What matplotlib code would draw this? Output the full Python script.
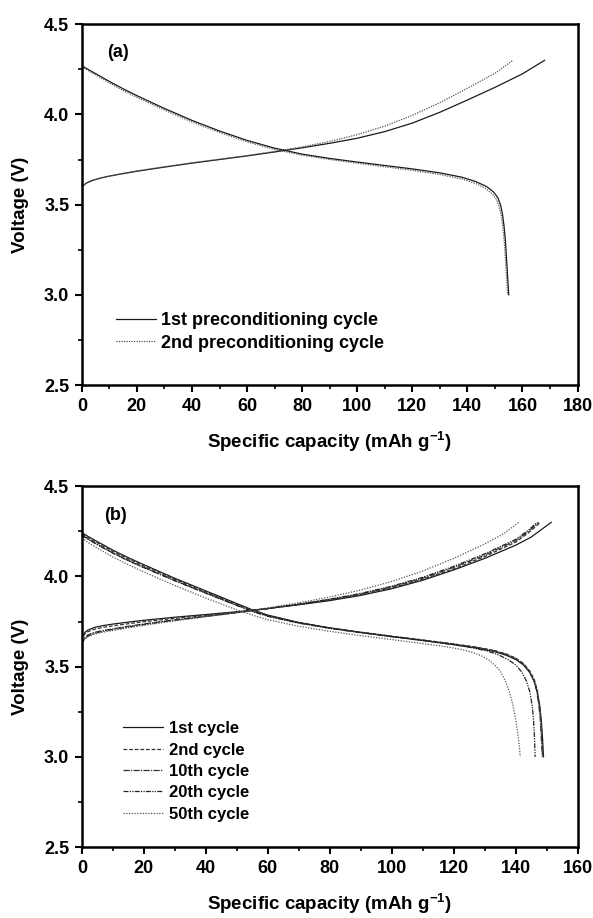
import matplotlib
matplotlib.use("Agg")
import matplotlib.pyplot as plt
from matplotlib.ticker import MultipleLocator, FormatStrFormatter

plt.rcParams['font.family'] = ['Liberation Sans', 'DejaVu Sans']
plt.rcParams['font.weight'] = 'bold'
plt.rcParams['mathtext.fontset'] = 'custom'
plt.rcParams['mathtext.rm'] = 'Liberation Sans:bold'
plt.rcParams['mathtext.bf'] = 'Liberation Sans:bold'
plt.rcParams['mathtext.default'] = 'bf'

# ---------------- Panel (a) data ----------------
a_labels = ['1st preconditioning cycle', '2nd preconditioning cycle']
a_ch1_x = [0, 1, 2, 4, 7, 10, 15, 20, 30, 40, 50, 60, 70, 80, 90, 100, 110, 120, 130, 140, 150, 160, 168]
a_ch1_y = [3.60, 3.612, 3.622, 3.635, 3.648, 3.658, 3.672, 3.685, 3.708, 3.73, 3.75, 3.77, 3.792, 3.815, 3.84, 3.868, 3.905, 3.952, 4.012, 4.08, 4.15, 4.225, 4.30]
a_ch2_x = [0, 1, 2, 4, 7, 10, 15, 20, 30, 40, 50, 60, 70, 80, 90, 100, 110, 120, 130, 140, 150, 156.5]
a_ch2_y = [3.60, 3.612, 3.622, 3.635, 3.648, 3.658, 3.673, 3.687, 3.71, 3.732, 3.752, 3.772, 3.795, 3.82, 3.85, 3.888, 3.935, 3.995, 4.065, 4.145, 4.228, 4.30]
a_dis1_x = [0, 2, 5, 10, 15, 20, 30, 40, 50, 60, 70, 80, 90, 100, 110, 120, 130, 138, 143, 147, 149.5, 151, 152, 152.7, 153.3, 153.8, 154.2, 154.6, 155]
a_dis1_y = [4.27, 4.252, 4.226, 4.183, 4.142, 4.104, 4.033, 3.967, 3.908, 3.856, 3.813, 3.78, 3.756, 3.736, 3.717, 3.698, 3.676, 3.652, 3.628, 3.60, 3.57, 3.54, 3.50, 3.45, 3.38, 3.30, 3.20, 3.10, 3.00]
a_dis2_x = [0, 2, 5, 10, 15, 20, 30, 40, 50, 60, 70, 80, 90, 100, 110, 120, 130, 138, 143, 146.5, 149, 150.5, 151.5, 152.3, 152.9, 153.4, 153.8, 154.2, 154.6]
a_dis2_y = [4.265, 4.246, 4.219, 4.175, 4.133, 4.095, 4.024, 3.958, 3.90, 3.848, 3.806, 3.774, 3.75, 3.73, 3.71, 3.69, 3.667, 3.642, 3.617, 3.59, 3.56, 3.53, 3.49, 3.44, 3.37, 3.29, 3.20, 3.10, 3.00]

# ---------------- Panel (b) data ----------------
b_labels = ['1st cycle', '2nd cycle', '10th cycle', '20th cycle', '50th cycle']
b_ch1_x = [0, 0.3, 1, 2, 4, 7, 10, 15, 20, 30, 40, 50, 60, 70, 80, 90, 100, 110, 120, 130, 140, 145, 151.5]
b_ch1_y = [3.64, 3.67, 3.69, 3.703, 3.717, 3.728, 3.736, 3.747, 3.757, 3.774, 3.789, 3.804, 3.822, 3.843, 3.866, 3.895, 3.932, 3.979, 4.036, 4.10, 4.173, 4.218, 4.30]
b_ch2_x = [0, 0.3, 1, 2, 4, 7, 10, 15, 20, 30, 40, 50, 60, 70, 80, 90, 100, 110, 120, 130, 140, 144, 148]
b_ch2_y = [3.64, 3.665, 3.682, 3.694, 3.707, 3.718, 3.726, 3.738, 3.749, 3.768, 3.785, 3.802, 3.822, 3.845, 3.87, 3.90, 3.937, 3.984, 4.042, 4.11, 4.19, 4.24, 4.30]
b_ch10_x = [0, 0.3, 1, 2, 4, 7, 10, 15, 20, 30, 40, 50, 60, 70, 80, 90, 100, 110, 120, 130, 140, 144, 147.5]
b_ch10_y = [3.62, 3.645, 3.663, 3.676, 3.69, 3.701, 3.71, 3.724, 3.737, 3.76, 3.78, 3.80, 3.822, 3.846, 3.872, 3.903, 3.942, 3.99, 4.05, 4.118, 4.198, 4.248, 4.30]
b_ch20_x = [0, 0.3, 1, 2, 4, 7, 10, 15, 20, 30, 40, 50, 60, 70, 80, 90, 100, 110, 120, 130, 140, 144, 147]
b_ch20_y = [3.61, 3.638, 3.656, 3.67, 3.685, 3.697, 3.706, 3.72, 3.733, 3.757, 3.778, 3.799, 3.822, 3.847, 3.874, 3.906, 3.946, 3.995, 4.056, 4.125, 4.205, 4.255, 4.30]
b_ch50_x = [0, 0.3, 1, 2, 4, 7, 10, 15, 20, 30, 40, 50, 60, 70, 80, 90, 100, 110, 120, 130, 136, 141]
b_ch50_y = [3.62, 3.64, 3.655, 3.666, 3.68, 3.692, 3.70, 3.715, 3.729, 3.754, 3.777, 3.80, 3.826, 3.854, 3.886, 3.925, 3.972, 4.03, 4.10, 4.18, 4.235, 4.30]

b_dis1_x = [0, 2, 5, 10, 15, 20, 30, 40, 50, 55, 60, 70, 80, 90, 100, 110, 120, 127, 133, 137, 140, 142.5, 144.5, 146, 147, 147.8, 148.3, 148.7, 149]
b_dis1_y = [4.243, 4.222, 4.193, 4.146, 4.104, 4.065, 3.99, 3.92, 3.85, 3.815, 3.786, 3.745, 3.715, 3.69, 3.667, 3.645, 3.622, 3.604, 3.584, 3.563, 3.54, 3.51, 3.47, 3.42, 3.36, 3.28, 3.20, 3.10, 3.00]
b_dis2_x = [0, 2, 5, 10, 15, 20, 30, 40, 50, 55, 60, 70, 80, 90, 100, 110, 120, 127, 133, 137, 140, 142.5, 144.5, 146, 147, 147.7, 148.2, 148.5, 148.8]
b_dis2_y = [4.236, 4.215, 4.186, 4.139, 4.097, 4.058, 3.984, 3.914, 3.845, 3.811, 3.783, 3.744, 3.715, 3.691, 3.669, 3.648, 3.626, 3.609, 3.59, 3.57, 3.548, 3.518, 3.478, 3.43, 3.37, 3.29, 3.20, 3.10, 3.00]
b_dis10_x = [0, 2, 5, 10, 15, 20, 30, 40, 50, 55, 60, 70, 80, 90, 100, 110, 120, 127, 133, 137, 140, 142.4, 144.3, 145.8, 146.8, 147.5, 148, 148.3, 148.6]
b_dis10_y = [4.23, 4.208, 4.178, 4.131, 4.089, 4.051, 3.978, 3.909, 3.841, 3.808, 3.781, 3.743, 3.714, 3.69, 3.668, 3.647, 3.625, 3.608, 3.589, 3.568, 3.545, 3.515, 3.475, 3.425, 3.365, 3.285, 3.20, 3.10, 3.00]
b_dis20_x = [0, 2, 5, 10, 15, 20, 30, 40, 50, 55, 60, 70, 80, 90, 100, 110, 120, 126, 131, 134.5, 137.5, 140, 142, 143.5, 144.6, 145.4, 145.8, 146.1, 146.3]
b_dis20_y = [4.228, 4.206, 4.176, 4.129, 4.087, 4.049, 3.976, 3.907, 3.839, 3.806, 3.779, 3.741, 3.712, 3.688, 3.666, 3.645, 3.622, 3.605, 3.586, 3.565, 3.54, 3.51, 3.47, 3.42, 3.36, 3.28, 3.20, 3.10, 3.00]
b_dis50_x = [0, 2, 5, 10, 15, 20, 30, 40, 50, 55, 60, 70, 80, 90, 100, 110, 117, 122, 126, 129, 131.5, 133.5, 135.2, 136.7, 138, 139.1, 140, 140.7, 141.2, 141.5]
b_dis50_y = [4.213, 4.188, 4.157, 4.108, 4.065, 4.025, 3.95, 3.88, 3.815, 3.786, 3.76, 3.724, 3.696, 3.672, 3.65, 3.628, 3.612, 3.597, 3.58, 3.56, 3.535, 3.505, 3.47, 3.42, 3.36, 3.29, 3.21, 3.13, 3.06, 3.00]

# ---------------- Figure ----------------
fig = plt.figure(figsize=(5.93, 9.18), dpi=100)
axA = fig.add_axes([0.138, 0.5806, 0.836, 0.393])
axB = fig.add_axes([0.138, 0.0773, 0.836, 0.393])

lw = 0.9
dark = '#1a1a1a'
grey = '#555555'

axA.plot(a_ch1_x, a_ch1_y, color=dark, lw=lw, ls='-', label=a_labels[0])
axA.plot(a_ch2_x, a_ch2_y, color=grey, lw=lw, ls=(0, (1, 1)), label=a_labels[1])
axA.plot(a_dis1_x, a_dis1_y, color=dark, lw=lw, ls='-')
axA.plot(a_dis2_x, a_dis2_y, color=grey, lw=lw, ls=(0, (1, 1)))

styles = ['-', (0, (3, 1.5)), (0, (5, 1, 1, 1)), (0, (4, 1, 1, 1, 1, 1)), (0, (1, 1.2))]
cols = [dark, '#333333', '#333333', '#222222', '#555555']
b_ch = [(b_ch1_x, b_ch1_y), (b_ch2_x, b_ch2_y), (b_ch10_x, b_ch10_y), (b_ch20_x, b_ch20_y), (b_ch50_x, b_ch50_y)]
b_dis = [(b_dis1_x, b_dis1_y), (b_dis2_x, b_dis2_y), (b_dis10_x, b_dis10_y), (b_dis20_x, b_dis20_y), (b_dis50_x, b_dis50_y)]
for i in range(5):
    axB.plot(b_ch[i][0], b_ch[i][1], color=cols[i], lw=lw, ls=styles[i], label=b_labels[i])
    axB.plot(b_dis[i][0], b_dis[i][1], color=cols[i], lw=lw, ls=styles[i])

for ax, xmax in ((axA, 180), (axB, 160)):
    ax.set_xlim(0, xmax)
    ax.set_ylim(2.5, 4.5)
    ax.xaxis.set_major_locator(MultipleLocator(20))
    ax.xaxis.set_minor_locator(MultipleLocator(10))
    ax.yaxis.set_major_locator(MultipleLocator(0.5))
    ax.yaxis.set_minor_locator(MultipleLocator(0.25))
    ax.yaxis.set_major_formatter(FormatStrFormatter('%.1f'))
    ax.tick_params(which='major', direction='out', length=5, width=1.5, labelsize=13, pad=4,
                   top=False, right=False)
    ax.tick_params(which='minor', direction='out', length=3, width=1.2, top=False, right=False)
    for lab in ax.get_xticklabels() + ax.get_yticklabels():
        lab.set_fontweight('bold')
    for s in ax.spines.values():
        s.set_linewidth(1.8)
    ax.set_ylabel('Voltage (V)', fontsize=13.5, fontweight='bold', labelpad=11)
    ax.set_xlabel('Specific capacity (mAh g$^{-1}$)', fontsize=13.5, fontweight='bold', labelpad=11)

axA.text(0.052, 0.923, '(a)', transform=axA.transAxes, fontsize=13, fontweight='bold', va='center')
axB.text(0.044, 0.92, '(b)', transform=axB.transAxes, fontsize=13, fontweight='bold', va='center')

axA.legend(loc='lower left', bbox_to_anchor=(0.055, 0.072), frameon=False,
           handlelength=2.2, handletextpad=0.3, labelspacing=0.3, borderaxespad=0,
           prop={'weight': 'bold', 'size': 13})
axB.legend(loc='lower left', bbox_to_anchor=(0.07, 0.052), frameon=False,
           handlelength=2.4, handletextpad=0.35, labelspacing=0.38, borderaxespad=0,
           prop={'weight': 'bold', 'size': 12})

fig.savefig('out.png', dpi=100)
